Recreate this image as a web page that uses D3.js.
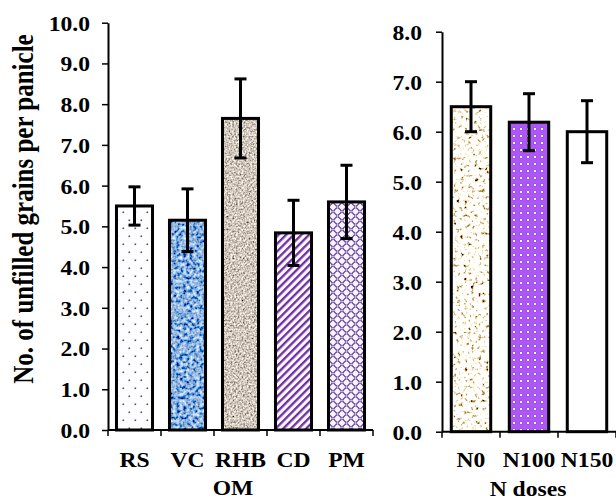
<!DOCTYPE html>
<html>
<head>
<meta charset="utf-8">
<script src="https://cdn.jsdelivr.net/npm/d3@7"></script>
<style>
  html, body { margin: 0; padding: 0; background: #fff; }
  svg { display: block; }
  text { font-family: "Liberation Serif", "Times New Roman", serif; font-weight: bold; fill: #000; }
</style>
</head>
<body>
<svg id="chart"></svg>
<script>
// OM panel data
const omCategories = ["RS", "VC", "RHB", "CD", "PM"];
const omValues = [5.5, 5.15, 7.65, 4.84, 5.6];
const omErrors = [0.47, 0.77, 0.97, 0.8, 0.9];
const omTicks = [0, 1, 2, 3, 4, 5, 6, 7, 8, 9, 10];

// N doses panel data
const nCategories = ["N0", "N100", "N150"];
const nValues = [6.5, 6.19, 6.0];
const nErrors = [0.5, 0.57, 0.62];
const nTicks = [0, 1, 2, 3, 4, 5, 6, 7, 8];

const yTitle = "No. of unfilled  grains per panicle";

const canvas = { width: 616, height: 501 };
const stretch = 1.18; // text in the picture is a bit wide

const svg = d3.select("#chart")
  .attr("width", canvas.width)
  .attr("height", canvas.height);

const defs = svg.append("defs");

// noise texture filters (speckled fills)
const noiseFilter = (id, freq, seed, matrix) => {
  const f = defs.append("filter").attr("id", id)
    .attr("x", 0).attr("y", 0).attr("width", 1).attr("height", 1);
  f.append("feTurbulence").attr("type", "fractalNoise")
    .attr("baseFrequency", freq).attr("numOctaves", 2).attr("seed", seed).attr("result", "n");
  f.append("feColorMatrix").attr("in", "n").attr("type", "matrix")
    .attr("values", matrix).attr("result", "c");
  f.append("feComposite").attr("in", "c").attr("in2", "SourceGraphic").attr("operator", "in");
};

noiseFilter("tex-vc", 0.3, 4,
  "1.6 0 0 0 -0.54  1.6 0 0 0 -0.37  1.2 0 0 0 0.12  0 0 0 0 1");
noiseFilter("tex-rhb", 0.55, 9,
  "1.5 0 0 0 -0.12  1.5 0 0 0 -0.18  1.5 0 0 0 -0.24  0 0 0 0 1");
noiseFilter("tex-n0", 0.28, 2,
  "4 0 0 0 -0.6  4 0 0 0 -0.75  4 0 0 0 -0.95  0 0 0 0 1");

// dotted pattern (RS)
const pRS = defs.append("pattern").attr("id", "pat-rs")
  .attr("patternUnits", "userSpaceOnUse").attr("width", 12).attr("height", 16);
pRS.append("rect").attr("width", 12).attr("height", 16).attr("fill", "#fdfcfe");
pRS.append("rect").attr("x", 2.5).attr("y", 3.5).attr("width", 1.6).attr("height", 1.6).attr("fill", "#555");
pRS.append("rect").attr("x", 8.5).attr("y", 11.5).attr("width", 1.6).attr("height", 1.6).attr("fill", "#555");

// diagonal stripes (CD)
const pCD = defs.append("pattern").attr("id", "pat-cd")
  .attr("patternUnits", "userSpaceOnUse").attr("width", 5.4).attr("height", 10)
  .attr("patternTransform", "rotate(45)");
pCD.append("rect").attr("width", 5.4).attr("height", 10).attr("fill", "#fdf9ff");
pCD.append("rect").attr("width", 2.3).attr("height", 10).attr("fill", "#7030a0");

// trellis (PM)
const pPM = defs.append("pattern").attr("id", "pat-pm")
  .attr("patternUnits", "userSpaceOnUse").attr("width", 9).attr("height", 9);
pPM.append("rect").attr("width", 9).attr("height", 9).attr("fill", "#faf5fd");
[[0, 0], [9, 0], [0, 9], [9, 9], [4.5, 4.5]].forEach(([cx, cy]) => {
  pPM.append("circle").attr("cx", cx).attr("cy", cy).attr("r", 3.5)
    .attr("fill", "none").attr("stroke", "#5a3a90").attr("stroke-width", 0.8);
});

// white squares on purple (N100)
const pN100 = defs.append("pattern").attr("id", "pat-n100")
  .attr("patternUnits", "userSpaceOnUse").attr("width", 7).attr("height", 7);
pN100.append("rect").attr("width", 7).attr("height", 7).attr("fill", "#ad58f5");
pN100.append("rect").attr("x", 1.7).attr("y", 1.7).attr("width", 2.6).attr("height", 2.6).attr("fill", "#8a30dc");
pN100.append("rect").attr("x", 2).attr("y", 2).attr("width", 2).attr("height", 2).attr("fill", "#fff");

const omFills = [
  { fill: "url(#pat-rs)" },
  { fill: "#fff", filter: "url(#tex-vc)" },
  { fill: "#fff", filter: "url(#tex-rhb)" },
  { fill: "url(#pat-cd)" },
  { fill: "url(#pat-pm)" },
];
const nFills = [
  { fill: "#fff", filter: "url(#tex-n0)" },
  { fill: "url(#pat-n100)" },
  { fill: "#fff" },
];

// one bar panel
const drawPanel = (p) => {
  const yScale = d3.scaleLinear().domain(p.yDomain).range([p.bottom, p.top]);
  const xScale = d3.scaleBand().domain(p.categories)
    .range([p.left, p.right]).paddingInner(0.32).paddingOuter(0.16);

  const g = svg.append("g");

  // bars: fill first, outline on top
  p.categories.forEach((c, i) => {
    const x = xScale(c);
    const y = yScale(p.values[i]);
    const h = yScale(0) - y;
    const r = g.append("rect").attr("x", x).attr("y", y)
      .attr("width", xScale.bandwidth()).attr("height", h)
      .attr("fill", p.fills[i].fill);
    if (p.fills[i].filter) r.attr("filter", p.fills[i].filter);
    g.append("rect").attr("x", x).attr("y", y)
      .attr("width", xScale.bandwidth()).attr("height", h)
      .attr("fill", "none").attr("stroke", "#000").attr("stroke-width", 3);
  });

  // error bars
  p.categories.forEach((c, i) => {
    const cx = xScale(c) + xScale.bandwidth() / 2;
    const y1 = yScale(p.values[i] + p.errors[i]);
    const y2 = yScale(p.values[i] - p.errors[i]);
    g.append("line").attr("x1", cx).attr("x2", cx).attr("y1", y1).attr("y2", y2)
      .attr("stroke", "#000").attr("stroke-width", 3);
    [y1, y2].forEach((yy) => {
      g.append("line").attr("x1", cx - 6).attr("x2", cx + 6).attr("y1", yy).attr("y2", yy)
        .attr("stroke", "#000").attr("stroke-width", 3);
    });
  });

  // y axis
  const yAxis = d3.axisLeft(yScale).tickValues(p.ticks)
    .tickFormat(d3.format(".1f")).tickSize(6).tickSizeOuter(0);
  const ya = g.append("g").attr("transform", `translate(${p.left},0)`).call(yAxis);
  ya.select(".domain").attr("stroke", "#000").attr("stroke-width", 2);
  ya.selectAll(".tick line").attr("stroke", "#000").attr("stroke-width", 1.5);
  ya.selectAll(".tick text")
    .attr("x", -p.labelGap / stretch).attr("dy", "0.37em")
    .attr("transform", `scale(${stretch},1)`)
    .style("font-size", "20px");

  // x axis line + boundary ticks
  g.append("line").attr("x1", p.left).attr("x2", p.right)
    .attr("y1", p.bottom).attr("y2", p.bottom)
    .attr("stroke", "#000").attr("stroke-width", 2);
  const bounds = d3.range(p.categories.length + 1).map((i) => p.left + i * xScale.step());
  g.selectAll(".xtick").data(bounds).enter().append("line")
    .attr("x1", (d) => d).attr("x2", (d) => d)
    .attr("y1", p.bottom).attr("y2", p.bottom + 6)
    .attr("stroke", "#000").attr("stroke-width", 1.5);

  // category labels
  g.selectAll(".xlab").data(p.categories).enter().append("text")
    .attr("transform", (d) => `translate(${xScale(d) + xScale.bandwidth() / 2},467) scale(${stretch},1)`)
    .attr("text-anchor", "middle").style("font-size", "20px")
    .text((d) => d);

  // axis title
  g.append("text")
    .attr("transform", `translate(${p.titleX},${p.titleY}) scale(${stretch},1)`)
    .attr("text-anchor", "middle").style("font-size", "20px")
    .text(p.title);
};

drawPanel({
  categories: omCategories, values: omValues, errors: omErrors, fills: omFills,
  ticks: omTicks, yDomain: [0, 10],
  left: 108, right: 373, top: 22.7, bottom: 430,
  labelGap: 18, title: "OM", titleX: 233, titleY: 495,
});

drawPanel({
  categories: nCategories, values: nValues, errors: nErrors, fills: nFills,
  ticks: nTicks, yDomain: [0, 8],
  left: 442, right: 616, top: 31.7, bottom: 431.7,
  labelGap: 20, title: "N doses", titleX: 528, titleY: 496,
});

// y axis title
svg.append("text")
  .attr("transform", `translate(33,209) scale(${stretch},1) rotate(-90)`)
  .attr("text-anchor", "middle").style("font-size", "25px")
  .text(yTitle);
</script>
</body>
</html>
